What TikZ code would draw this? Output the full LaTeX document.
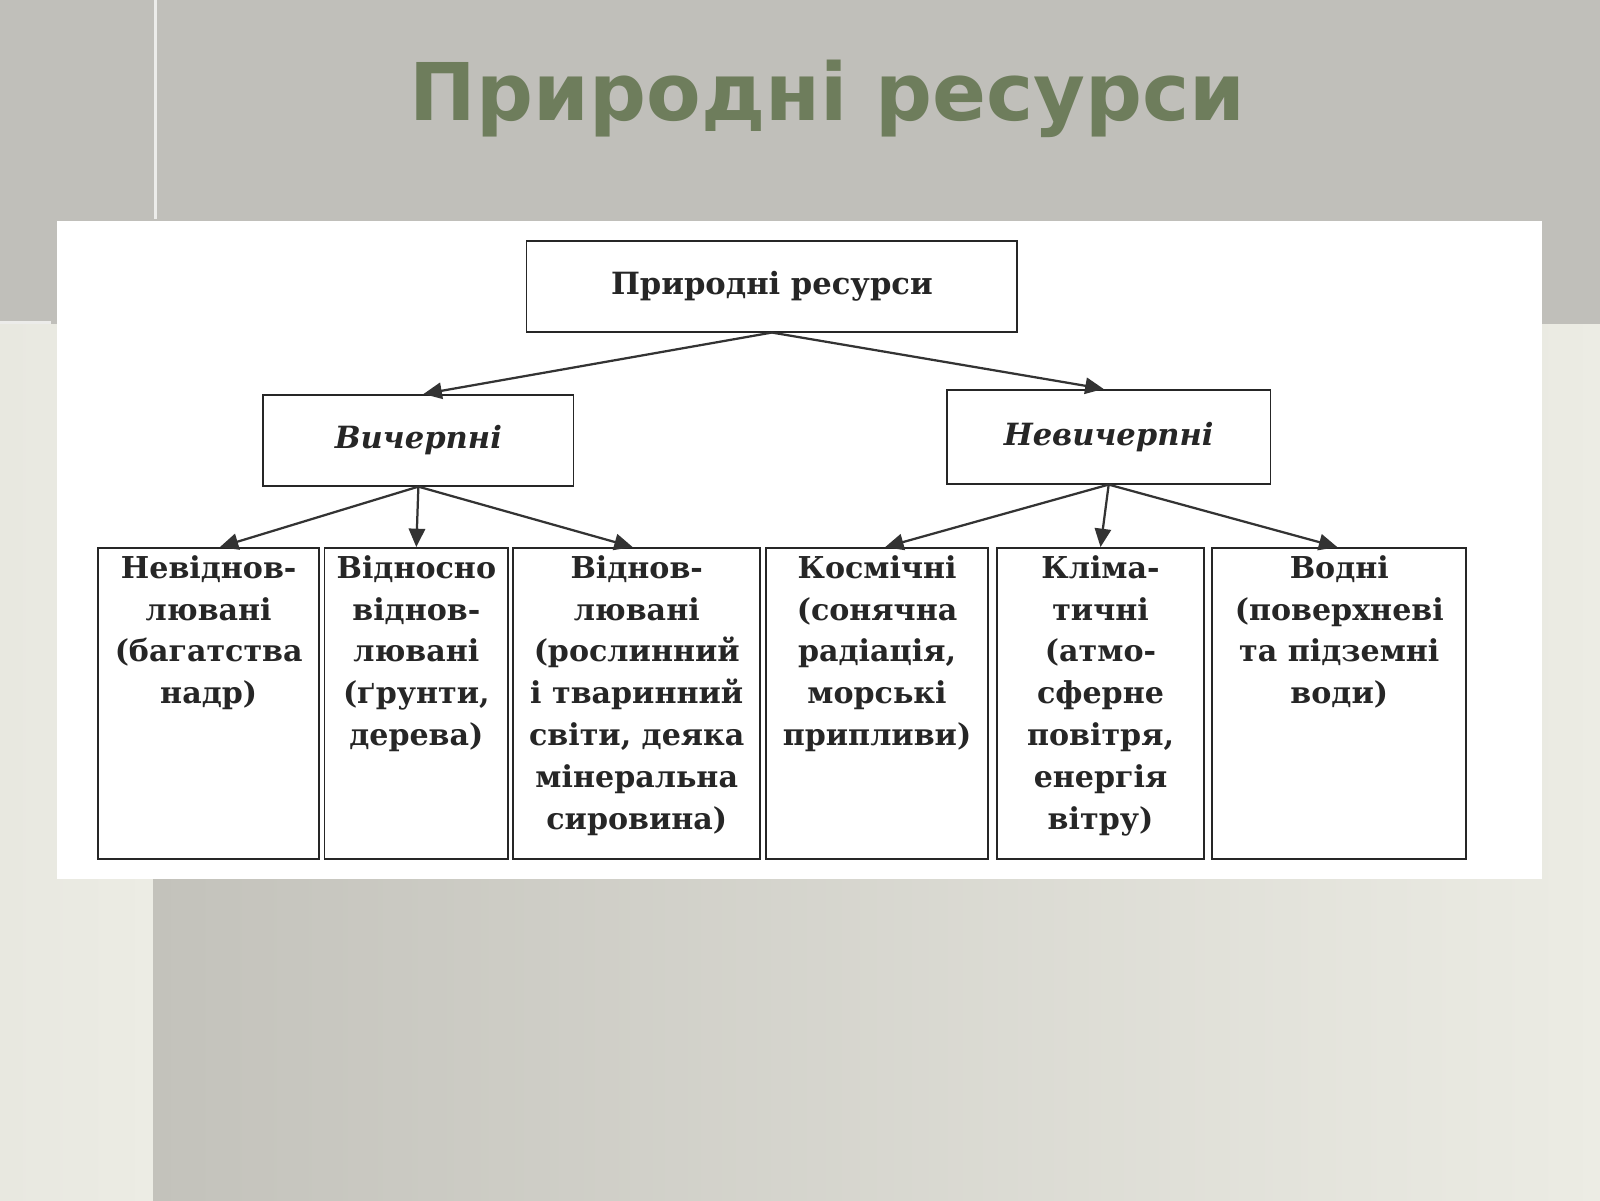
\documentclass[tikz,border=0pt]{standalone}
\usepackage{fontspec}
\setmainfont{DejaVu Serif}
\newfontfamily\titlefont{DejaVu Sans}
\usetikzlibrary{arrows.meta}
\definecolor{bandgray}{HTML}{C0BFBA}
\definecolor{titlegreen}{HTML}{6E7D5C}
\definecolor{lightbg}{HTML}{ECECE4}
\definecolor{midbg}{HTML}{C3C2BB}
\begin{document}
\begin{tikzpicture}[x=1pt,y=-1pt,
  box/.style={draw=black!85,line width=1.8pt,inner sep=0pt},
  boxtxt/.style={anchor=north,align=center,inner sep=0pt,font=\bfseries\fontsize{29.5}{41}\selectfont,text=black!85},
  arr/.style={draw=black!80,line width=2.2pt,-{Triangle[length=18pt,width=16pt]}}]
\useasboundingbox (0,0) rectangle (1568,1176);
% background
\fill[bandgray] (0,0) rectangle (1568,318);
\shade[left color=lightbg!90!midbg,right color=lightbg] (0,318) rectangle (150,1176);
\shade[left color=midbg,right color=lightbg] (150,318) rectangle (1568,1176);
\fill[white!70!bandgray] (151,0) rectangle (154,215);
\fill[white!70!bandgray] (0,315) rectangle (50,318);
% title
\node[font=\titlefont\bfseries\fontsize{78}{90}\selectfont,text=titlegreen,
  preaction={text=black!50}] (title) at (811,97) {Природні ресурси};
% panel
\fill[white] (56,217) rectangle (1511,861);
% boxes
\node[box,minimum width=481pt,minimum height=89pt,font=\bfseries\fontsize{30}{40}\selectfont,text=black!85] (top) at (756.5,280.5) {Природні ресурси};
\node[box,minimum width=304pt,minimum height=89pt,font=\bfseries\itshape\fontsize{30}{40}\selectfont,text=black!85] (v) at (410,431.5) {Вичерпні};
\node[box,minimum width=317pt,minimum height=92pt,font=\bfseries\itshape\fontsize{30}{40}\selectfont,text=black!85] (n) at (1086.5,428) {Невичерпні};
\foreach \nm/\xa/\xb in {b1/96/313,b2/318/498,b3/503/745,b4/751/968,b5/977/1180,b6/1188/1437}{
  \node[box,minimum width={\xb-\xa},minimum height=305pt] (\nm) at ({(\xa+\xb)/2},689.5) {};
}
\node[boxtxt] (t1) at ([yshift=-8pt]b1.north) {Невіднов-\\лювані\\(багатства\\надр)};
\node[boxtxt] (t2) at ([yshift=-8pt]b2.north) {Відносно\\віднов-\\лювані\\(ґрунти,\\дерева)};
\node[boxtxt] (t3) at ([yshift=-8pt]b3.north) {Віднов-\\лювані\\(рослинний\\і тваринний\\світи, деяка\\мінеральна\\сировина)};
\node[boxtxt] (t4) at ([yshift=-8pt]b4.north) {Космічні\\(сонячна\\радіація,\\морські\\припливи)};
\node[boxtxt] (t5) at ([yshift=-8pt]b5.north) {Кліма-\\тичні\\(атмо-\\сферне\\повітря,\\енергія\\вітру)};
\node[boxtxt] (t6) at ([yshift=-8pt]b6.north) {Водні\\(поверхневі\\та підземні\\води)};
% arrows
\draw[arr] (top.south) -- ([xshift=5pt]v.north);
\draw[arr] (top.south) -- ([xshift=-5pt]n.north);
\draw[arr] (v.south) -- ([xshift=11pt]b1.north);
\draw[arr] (v.south) -- (b2.north);
\draw[arr] (v.south) -- ([xshift=-4pt]b3.north);
\draw[arr] (n.south) -- ([xshift=8pt]b4.north);
\draw[arr] (n.south) -- (b5.north);
\draw[arr] (n.south) -- ([xshift=-2pt]b6.north);
\end{tikzpicture}
\end{document}
